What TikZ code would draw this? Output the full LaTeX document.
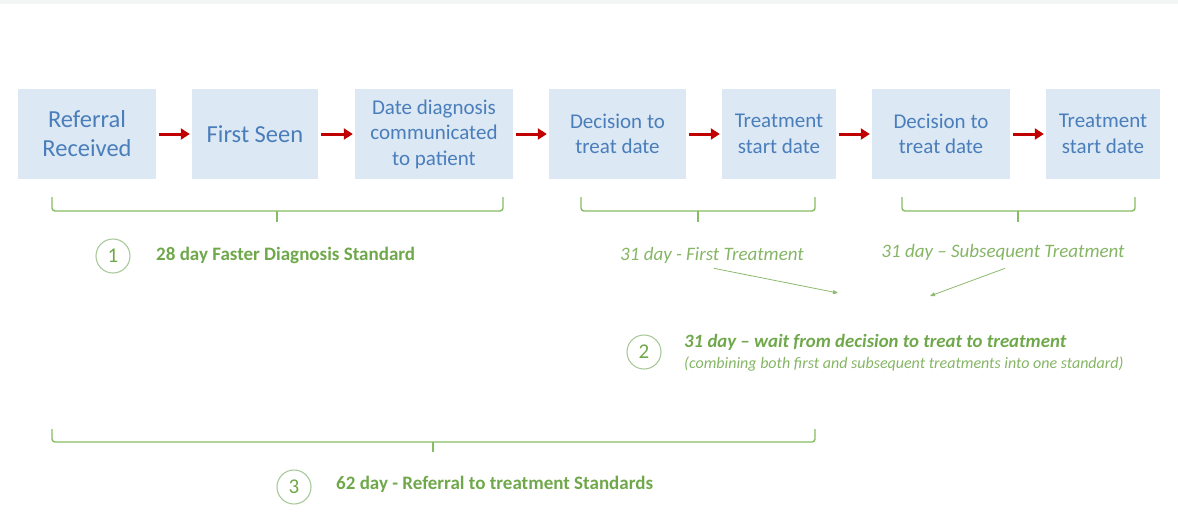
\documentclass[tikz,border=0pt]{standalone}
\usepackage{fontspec}
\setmainfont{Carlito}
\usetikzlibrary{arrows.meta}
\definecolor{boxfill}{HTML}{DCE8F4}
\definecolor{boxtext}{HTML}{4A7EBB}
\definecolor{flowred}{HTML}{C00000}
\definecolor{stdgreen}{HTML}{6FA84A}
\definecolor{bracegreen}{HTML}{86BC63}
\definecolor{ringgreen}{HTML}{A8C99A}
\definecolor{topband}{HTML}{F4F6F5}
\begin{document}
\begin{tikzpicture}[x=1pt,y=-1pt,
  stage/.style={fill=boxfill,text=boxtext,minimum height=90pt,align=center,inner sep=0pt,font=\fontsize{21}{25.5}\selectfont},
  bigstage/.style={stage,font=\fontsize{24.5}{29}\selectfont},
  flow/.style={draw=flowred,line width=3pt,-{Triangle[length=9pt,width=11pt]},shorten <=3pt,shorten >=2pt},
  brace/.style={draw=bracegreen,line width=1.4pt,rounded corners=3pt},
  ring/.style={circle,draw=ringgreen,line width=1.1pt,minimum size=34pt,inner sep=0pt,text=stdgreen,font=\fontsize{21}{22}\selectfont},
  stdlabel/.style={text=stdgreen,anchor=west,inner sep=0pt,font=\fontsize{19}{22}\selectfont\bfseries},
  sublabel/.style={text=stdgreen!85,inner sep=0pt,font=\fontsize{19}{22}\selectfont\itshape},
  pointer/.style={draw=stdgreen!80,line width=0.8pt,-{Triangle[length=5pt,width=4pt]}}
]
\useasboundingbox (0,0) rectangle (1178,520);
\fill[topband] (0,0) rectangle (1178,4);

% process stages
\node[bigstage,minimum width=138pt] (b1) at (87,134) {Referral\\Received};
\node[bigstage,minimum width=126pt] (b2) at (255,134) {First Seen};
\node[stage,minimum width=158pt] (b3) at (434,134) {Date diagnosis\\communicated\\to patient};
\node[stage,minimum width=137pt] (b4) at (617.5,134) {Decision to\\treat date};
\node[stage,minimum width=114pt] (b5) at (779,134) {Treatment\\start date};
\node[stage,minimum width=138pt] (b6) at (941,134) {Decision to\\treat date};
\node[stage,minimum width=114pt] (b7) at (1103,134) {Treatment\\start date};

\foreach \a/\b in {b1/b2,b2/b3,b3/b4,b4/b5,b5/b6,b6/b7}
  \draw[flow] (\a.east) -- (\b.west);

% brace for the 28 day standard
\coordinate (p1l) at (52,197);
\coordinate (p1r) at (503,197);
\coordinate (p1m) at (277,222);
\draw[brace] (p1l) -- (52,211) -- (503,211) -- (p1r);
\draw[brace] (p1m |- 0,211) -- (p1m);

% brace for first treatment
\coordinate (p2l) at (581,197);
\coordinate (p2r) at (815,197);
\coordinate (p2m) at (698,222);
\draw[brace] (p2l) -- (581,211) -- (815,211) -- (p2r);
\draw[brace] (p2m |- 0,211) -- (p2m);

% brace for subsequent treatment
\coordinate (p3l) at (902,197);
\coordinate (p3r) at (1135,197);
\coordinate (p3m) at (1018,222);
\draw[brace] (p3l) -- (902,211) -- (1135,211) -- (p3r);
\draw[brace] (p3m |- 0,211) -- (p3m);

% brace for the 62 day standard
\coordinate (p4l) at (52,429);
\coordinate (p4r) at (815,429);
\coordinate (p4m) at (433,452);
\draw[brace] (p4l) -- (52,442) -- (815,442) -- (p4r);
\draw[brace] (p4m |- 0,442) -- (p4m);

% standard 1
\node[ring] (r1) at (113,256) {1};
\node[stdlabel] (s1) at (156,255) {28 day Faster Diagnosis Standard};

% treatment sub-standards
\node[sublabel] (t1) at (712,255) {31 day - First Treatment};
\node[sublabel] (t2) at (1003,252) {31 day -- Subsequent Treatment};

% standard 2
\node[ring] (r2) at (644,352) {2};
\node[stdlabel,font=\fontsize{18.8}{22}\selectfont\bfseries\itshape] (s2) at (684,342) {31 day -- wait from decision to treat to treatment};
\node[text=stdgreen!85,anchor=west,inner sep=0pt,font=\fontsize{16}{18}\selectfont\itshape] (s2b) at (684,364) {(combining both first and subsequent treatments into one standard)};
\coordinate (h1) at (838,293);
\coordinate (h2) at (930,296);
\draw[pointer] (t1.south) ++(2,5) -- (h1);
\draw[pointer] (t2.south) ++(2,8) -- (h2);

% standard 3
\node[ring] (r3) at (294,487) {3};
\node[stdlabel] (s3) at (336,484) {62 day - Referral to treatment Standards};
\end{tikzpicture}
\end{document}
